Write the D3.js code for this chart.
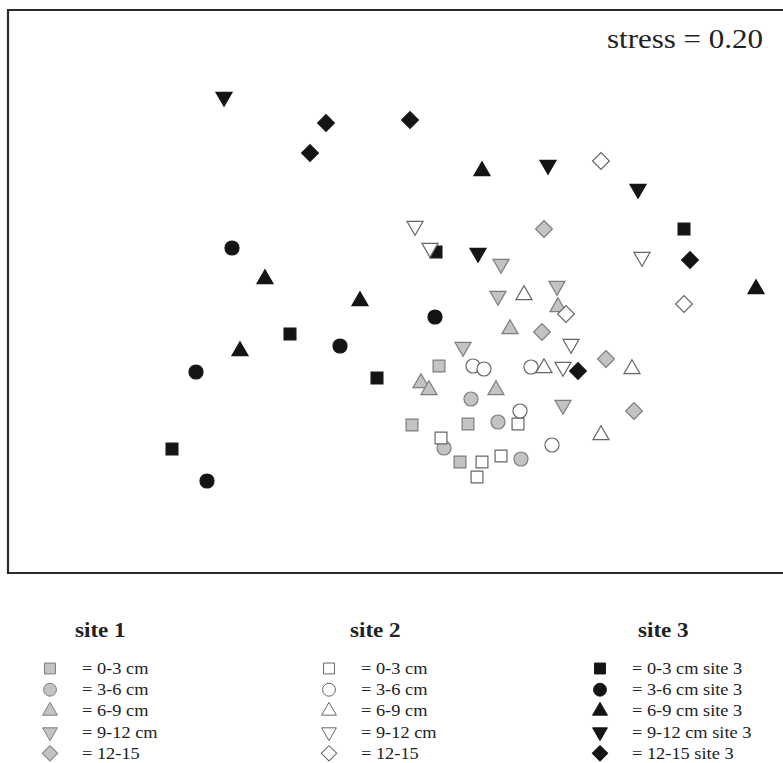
<!DOCTYPE html>
<html>
<head>
<meta charset="utf-8">
<script src="https://cdn.jsdelivr.net/npm/d3@7"></script>
<style>
  body { margin: 0; background: #fff; }
  text { font-family: "Liberation Serif", "DejaVu Serif", serif; fill: #222; }
</style>
</head>
<body>
<div id="chart"></div>
<script>
/**
 * DATA (NMDS axis scores)
 * */
const depths = ["0-3 cm", "3-6 cm", "6-9 cm", "9-12 cm", "12-15"];
const shapes = ["square", "circle", "up", "down", "diamond"];

// site 1 (grey)
const site1_x = [
  [0.155, 0.02, 0.30, 0.26],
  [0.315, 0.45, 0.18, 0.565],
  [0.065, 0.105, 0.44, 0.51, 0.75],
  [0.465, 0.45, 0.745, 0.275, 0.775],
  [0.68, 0.67, 0.99, 1.13]
];
const site1_y = [
  [-0.38, -0.675, -0.67, -0.86],
  [-0.545, -0.66, -0.79, -0.845],
  [-0.465, -0.5, -0.5, -0.195, -0.085],
  [0.13, -0.03, 0.02, -0.285, -0.575],
  [0.305, -0.21, -0.345, -0.605]
];

// site 2 (white)
const site2_x = [
  [0.165, 0.37, 0.465, 0.55, 0.345],
  [0.325, 0.38, 0.615, 0.56, 0.72],
  [0.58, 0.68, 1.12, 0.965],
  [0.035, 0.11, 1.17, 0.815, 0.775],
  [0.965, 0.79, 1.38]
];
const site2_y = [
  [-0.74, -0.86, -0.83, -0.67, -0.935],
  [-0.38, -0.395, -0.385, -0.605, -0.775],
  [-0.025, -0.39, -0.395, -0.725],
  [0.32, 0.21, 0.165, -0.27, -0.385],
  [0.645, -0.12, -0.07]
];

// site 3 (black)
const site3_x = [
  [-1.18, -0.59, -0.155, 0.14, 1.38],
  [-1.005, -1.06, -0.88, -0.34, 0.135],
  [-0.84, -0.715, -0.24, 0.37, 1.74],
  [-0.92, 0.35, 0.70, 1.15],
  [-0.49, -0.41, 0.01, 1.41, 0.85]
];
const site3_y = [
  [-0.795, -0.22, -0.44, 0.19, 0.305],
  [-0.955, -0.41, 0.21, -0.28, -0.135],
  [-0.305, 0.055, -0.055, 0.595, 0.005],
  [0.965, 0.185, 0.625, 0.505],
  [0.685, 0.835, 0.85, 0.15, -0.405]
];

const stressLabel = "stress = 0.20";

/**
 * CONSTANTS
 * */
const width = 783, height = 763;
const styles = {
  site1: { fill: "#c3c3c3", stroke: "#7d7d7d" },
  site2: { fill: "#ffffff", stroke: "#666666" },
  site3: { fill: "#141414", stroke: "#141414" }
};

const svg = d3.select("#chart").append("svg")
  .attr("width", width)
  .attr("height", height);

const x = d3.scaleLinear().domain([-2, 2]).range([8, 808]);
const y = d3.scaleLinear().domain([-1.415, 1.4]).range([573, 10]);

// symbol generator -- diamond is a square turned 45deg, down triangle is a flipped one
function symbolPath(shape, k) {
  const gen = d3.symbol();
  if (shape === "square" || shape === "diamond") gen.type(d3.symbolSquare).size(k * k * 140);
  else if (shape === "circle") gen.type(d3.symbolCircle).size(k * k * 155);
  else gen.type(d3.symbolTriangle).size(k * k * 112);
  return gen();
}
function symbolRotate(shape) {
  if (shape === "diamond") return 45;
  if (shape === "down") return 180;
  return 0;
}

// frame (open on the right)
svg.append("path")
  .attr("d", `M${width + 5},10 H8 V573 H${width + 5}`)
  .attr("fill", "none")
  .attr("stroke", "#2a2a2a")
  .attr("stroke-width", 2.2);

// points
function flatten(xs, ys, site) {
  const out = [];
  xs.forEach((arr, i) => arr.forEach((v, j) => out.push({ x: v, y: ys[i][j], shape: shapes[i], site })));
  return out;
}
const points = [
  ...flatten(site3_x, site3_y, "site3"),
  ...flatten(site1_x, site1_y, "site1"),
  ...flatten(site2_x, site2_y, "site2")
];

svg.append("g").selectAll("path")
  .data(points)
  .join("path")
  .attr("d", d => symbolPath(d.shape, 1))
  .attr("transform", d => `translate(${x(d.x)},${y(d.y)}) rotate(${symbolRotate(d.shape)})`)
  .attr("fill", d => styles[d.site].fill)
  .attr("stroke", d => styles[d.site].stroke)
  .attr("stroke-width", 1.2);

// stress label (the source font is a bit wide, so stretch it)
svg.append("text")
  .attr("transform", "translate(607,48) scale(1.17,1)")
  .attr("font-size", 26.5)
  .text(stressLabel);

// legend
const legendCols = [
  { site: "site1", title: "site 1", sx: 50, tx: 82, hx: 75, suffix: "" },
  { site: "site2", title: "site 2", sx: 329, tx: 361, hx: 350, suffix: "" },
  { site: "site3", title: "site 3", sx: 600, tx: 632, hx: 638, suffix: " site 3" }
];
const rowY = d3.scaleLinear().domain([0, 4]).range([668.5, 753.3]);

legendCols.forEach(col => {
  const g = svg.append("g");
  g.append("text")
    .attr("transform", `translate(${col.hx},637) scale(1.1,1)`)
    .attr("font-size", 21)
    .attr("font-weight", "bold")
    .text(col.title);

  shapes.forEach((shape, i) => {
    g.append("path")
      .attr("d", symbolPath(shape, 0.92))
      .attr("transform", `translate(${col.sx},${rowY(i)}) rotate(${symbolRotate(shape)})`)
      .attr("fill", styles[col.site].fill)
      .attr("stroke", styles[col.site].stroke)
      .attr("stroke-width", 1);
    g.append("text")
      .attr("transform", `translate(${col.tx},${rowY(i) + 5.5}) scale(1.08,1)`)
      .attr("font-size", 17)
      .text("= " + depths[i] + col.suffix);
  });
});
</script>
</body>
</html>
